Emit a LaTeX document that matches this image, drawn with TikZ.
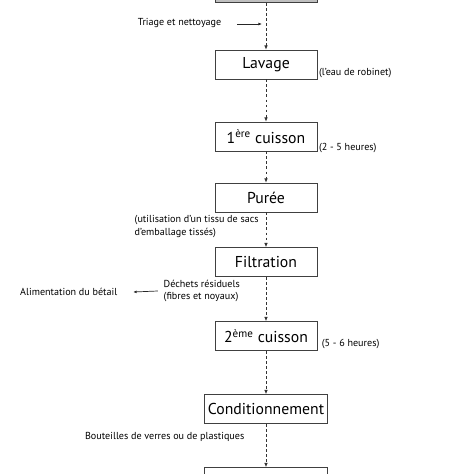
\documentclass[tikz,border=0pt]{standalone}
\usepackage{fontspec}
\setmainfont{PT Sans}
\usetikzlibrary{arrows.meta}

\begin{document}
\begin{tikzpicture}[x=0.025cm,y=-0.025cm]
        \tikzstyle{etape}=[draw=black!75, fill=white, line width=0.55pt, minimum width=2.55cm, minimum height=0.72cm, inner sep=0pt, font=\fontsize{11.2}{13}\selectfont]
        \tikzstyle{large}=[etape, minimum width=3.07cm]
        \tikzstyle{fleche}=[black!80, line width=0.55pt, dash pattern=on 2pt off 1.6pt, -{Latex[length=3pt,width=2.5pt]}]
        \tikzstyle{simple}=[black!85, line width=0.5pt, -{Latex[length=2.5pt,width=2pt]}]
        \tikzstyle{petit}=[inner sep=1pt, font=\fontsize{7.2}{9}\selectfont, text=black]

        \useasboundingbox (0,0) rectangle (474,474);
        \clip (0,0) rectangle (474,474);

        % les etapes
        \node[etape, fill=black!25] (haut) at (266,-12) {};
        \node[etape] (lavage) at (266,64.5) {Lavage};
        \node[etape] (cuisson1) at (266,136.5) {1\textsuperscript{ère} cuisson};
        \node[etape] (puree) at (266,197.5) {Purée};
        \node[etape] (filtration) at (266,262) {Filtration};
        \node[etape] (cuisson2) at (266,336) {2\textsuperscript{ème} cuisson};
        \node[large] (cond) at (266,409) {Conditionnement};
        \node[large] (bas) at (266,482) {};

        \draw[fleche] (haut) -- (lavage);
        \draw[fleche] (lavage) -- (cuisson1);
        \draw[fleche] (cuisson1) -- (puree);
        \draw[fleche] (puree) -- (filtration);
        \draw[fleche] (filtration) -- (cuisson2);
        \draw[fleche] (cuisson2) -- (cond);
        \draw[fleche] (cond) -- (bas);

        % les notes
        \node[petit, anchor=east] (triage) at (223,23) {Triage et nettoyage};
        \coordinate (T1) at (237,24);
        \coordinate (T2) at (262,24);
        \draw[simple] (T1) -- (T2);

        \node[petit, anchor=south west] (eau) at (lavage.south east) {(l'eau de robinet)};
        \node[petit, anchor=south west] (duree1) at ([yshift=-2pt]cuisson1.south east) {(2 - 5 heures)};
        \node[petit, anchor=south west] (duree2) at ([xshift=2pt]cuisson2.south east) {(5 - 6 heures)};

        \node[petit, anchor=north west, align=left] (tissu) at (133,214) {(utilisation d'un tissu de sacs\\d'emballage tissés)};

        \node[petit, anchor=west, align=left] (dechets) at (162,291) {Déchets résiduels\\(fibres et noyaux)};
        \node[petit, anchor=east] (betail) at (119,292) {Alimentation du bétail};
        \draw[simple] ([xshift=-3pt]dechets.west) -- ([xshift=10pt]betail.east);

        \node[petit, anchor=east] (bouteilles) at (246,437) {Bouteilles de verres ou de plastiques};
      \end{tikzpicture}
\end{document}
